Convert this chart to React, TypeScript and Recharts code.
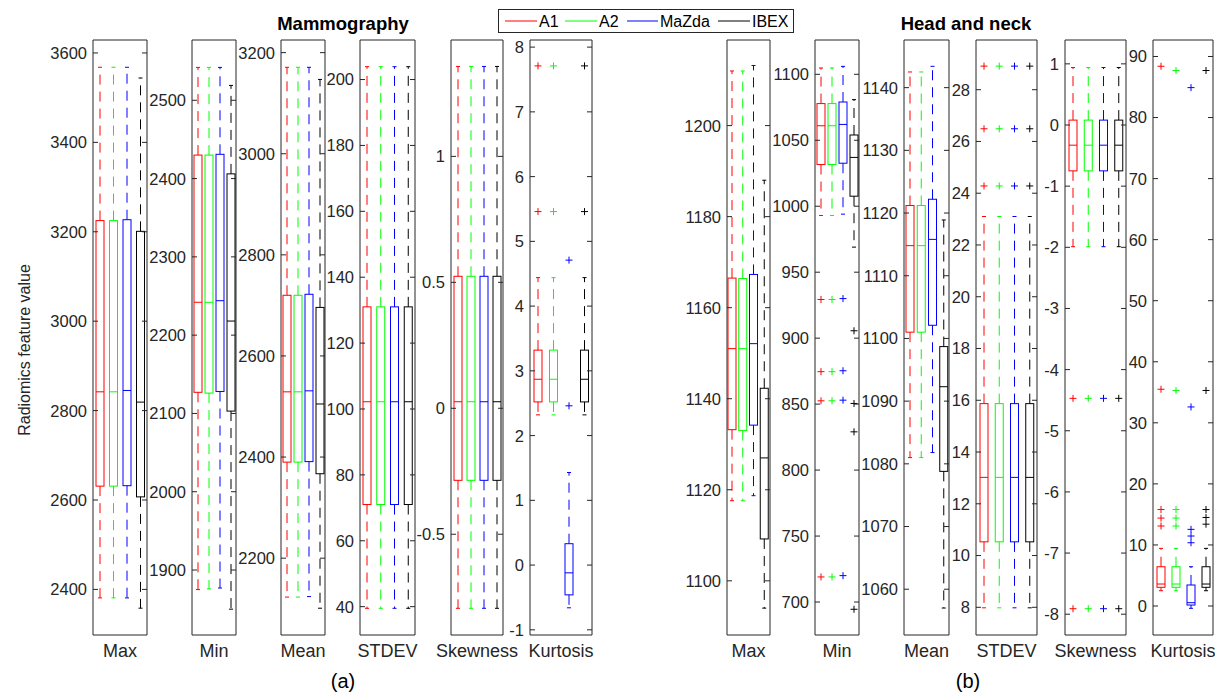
import React from 'react'
import { ComposedChart, Bar, XAxis, YAxis, ReferenceArea } from 'recharts'

const FONT = '"Liberation Sans", Arial, Helvetica, sans-serif'
const INK = '#262626'

const METHODS = ['A1', 'A2', 'MaZda', 'IBEX']
const COLORS: Record<string, string> = { A1: '#ff0000', A2: '#00ff00', MaZda: '#0000ff', IBEX: '#000000' }

// each box: [lower whisker, Q1, median, Q3, upper whisker], order A1, A2, MaZda, IBEX
// --- Mammography
const mamMaxBox = [[2381, 2631, 2842, 3225, 3568], [2381, 2631, 2842, 3225, 3568], [2381, 2632, 2845, 3227, 3568], [2358, 2607, 2819, 3201, 3544]]
const mamMaxTicks = [2400, 2600, 2800, 3000, 3200, 3400, 3600]

const mamMinBox = [[1875, 2127, 2242, 2430, 2542], [1876, 2126, 2242, 2430, 2542], [1877, 2128, 2244, 2431, 2542], [1850, 2103, 2218, 2406, 2519]]
const mamMinTicks = [1900, 2000, 2100, 2200, 2300, 2400, 2500]

const mamMeanBox = [[2123, 2390, 2529, 2720, 3171], [2123, 2390, 2529, 2720, 3171], [2124, 2391, 2531, 2722, 3171], [2101, 2367, 2505, 2696, 3147]]
const mamMeanTicks = [2200, 2400, 2600, 2800, 3000, 3200]

const mamStdBox = [[39.5, 71, 102.2, 131, 203.9], [39.5, 71, 102.2, 131, 203.9], [39.5, 71, 102.2, 131, 203.9], [39.5, 71, 102.2, 131, 203.9]]
const mamStdTicks = [40, 60, 80, 100, 120, 140, 160, 180, 200]

const mamSkewBox = [[-0.794, -0.286, 0.026, 0.524, 1.357], [-0.794, -0.286, 0.026, 0.524, 1.357], [-0.794, -0.286, 0.026, 0.524, 1.357], [-0.794, -0.286, 0.026, 0.524, 1.357]]
const mamSkewTicks = [-0.5, 0, 0.5, 1]

const mamKurtBox = [[2.32, 2.52, 2.87, 3.32, 4.44], [2.32, 2.52, 2.87, 3.32, 4.44], [-0.66, -0.46, -0.12, 0.33, 1.43], [2.32, 2.52, 2.87, 3.32, 4.44]]
const mamKurtOut = [[5.46, 7.71], [5.46, 7.71], [2.46, 4.71], [5.46, 7.71]]
const mamKurtTicks = [-1, 0, 1, 2, 3, 4, 5, 6, 7, 8]

// --- Head and neck
const hnMaxBox = [[1117.6, 1133.2, 1151, 1166.5, 1212], [1117.6, 1133, 1151, 1166.4, 1212], [1118.7, 1134.2, 1152.1, 1167.3, 1213.2], [1094, 1109.2, 1127, 1142.3, 1188]]
const hnMaxTicks = [1100, 1120, 1140, 1160, 1180, 1200]

const hnMinBox = [[993, 1031.6, 1061, 1077.8, 1104.8], [993, 1031.6, 1061, 1077.8, 1104.8], [994, 1032.6, 1062, 1079, 1106], [969, 1007.6, 1037, 1054, 1080.8]]
const hnMinOut = [[719, 852.5, 874.6, 929.3], [719, 852.5, 874.6, 929.3], [720, 853, 875.3, 930], [694.5, 829, 850.5, 905.6]]
const hnMinTicks = [700, 750, 800, 850, 900, 950, 1000, 1050, 1100]

const hnMeanBox = [[1081, 1101, 1114.8, 1121.2, 1142.5], [1081, 1101, 1114.8, 1121.2, 1142.5], [1081.8, 1102.1, 1115.8, 1122.2, 1143.4], [1057, 1078.8, 1092.3, 1098.7, 1118.9]]
const hnMeanTicks = [1060, 1070, 1080, 1090, 1100, 1110, 1120, 1130, 1140]

const hnStdBox = [[7.98, 10.53, 13.02, 15.87, 23.1], [7.98, 10.53, 13.02, 15.87, 23.1], [7.98, 10.53, 13.02, 15.87, 23.1], [7.98, 10.53, 13.02, 15.87, 23.1]]
const hnStdOut = [[24.28, 26.49, 28.91], [24.28, 26.49, 28.91], [24.28, 26.49, 28.91], [24.28, 26.49, 28.91]]
const hnStdTicks = [8, 10, 12, 14, 16, 18, 20, 22, 24, 26, 28]

const hnSkewBox = [[-1.99, -0.75, -0.33, 0.08, 0.94], [-1.99, -0.75, -0.33, 0.08, 0.94], [-1.99, -0.75, -0.33, 0.08, 0.94], [-1.99, -0.75, -0.33, 0.08, 0.94]]
const hnSkewOut = [[-7.91, -4.47], [-7.91, -4.47], [-7.91, -4.47], [-7.91, -4.47]]
const hnSkewTicks = [-8, -7, -6, -5, -4, -3, -2, -1, 0, 1]

const hnKurtBox = [[2.5, 3.06, 3.6, 6.43, 9.44], [2.5, 3.06, 3.6, 6.43, 9.44], [-0.38, 0.16, 0.54, 3.44, 6.43], [2.5, 3.06, 3.6, 6.43, 9.44]]
const hnKurtOut = [[13.1, 14.4, 15.8, 35.5, 88.4], [13.1, 14.4, 15.8, 35.3, 87.7], [10.36, 11.46, 12.55, 32.6, 84.9], [13.4, 14.5, 15.8, 35.3, 87.7]]
const hnKurtTicks = [0, 10, 20, 30, 40, 50, 60, 70, 80, 90]

const NONE = [[], [], [], []] as number[][]

const PLOT_TOP = 40
const PLOT_H = 595
const AXIS_W = 70
const XAXIS_H = 40
const PAD_R = 40 // room for the category label to overhang the plot

const panels = [
  { label: 'Max', box: mamMaxBox, out: NONE, ticks: mamMaxTicks, domain: [2298, 3629], left: 93, right: 147 },
  { label: 'Min', box: mamMinBox, out: NONE, ticks: mamMinTicks, domain: [1817, 2577], left: 192, right: 236 },
  { label: 'Mean', box: mamMeanBox, out: NONE, ticks: mamMeanTicks, domain: [2048, 3225], left: 281, right: 325 },
  { label: 'STDEV', box: mamStdBox, out: NONE, ticks: mamStdTicks, domain: [31.4, 212], left: 360, right: 415 },
  { label: 'Skewness', box: mamSkewBox, out: NONE, ticks: mamSkewTicks, domain: [-0.9, 1.462], left: 451, right: 503 },
  { label: 'Kurtosis', box: mamKurtBox, out: mamKurtOut, ticks: mamKurtTicks, domain: [-1.08, 8.11], left: 530, right: 592 },
  { label: 'Max', box: hnMaxBox, out: NONE, ticks: hnMaxTicks, domain: [1088.1, 1218.8], left: 727, right: 770 },
  { label: 'Min', box: hnMinBox, out: hnMinOut, ticks: hnMinTicks, domain: [675, 1126], left: 815, right: 859 },
  { label: 'Mean', box: hnMeanBox, out: NONE, ticks: hnMeanTicks, domain: [1052.7, 1147.6], left: 904, right: 949 },
  { label: 'STDEV', box: hnStdBox, out: hnStdOut, ticks: hnStdTicks, domain: [6.93, 29.92], left: 976, right: 1037 },
  { label: 'Skewness', box: hnSkewBox, out: hnSkewOut, ticks: hnSkewTicks, domain: [-8.34, 1.39], left: 1065, right: 1126 },
  { label: 'Kurtosis', box: hnKurtBox, out: hnKurtOut, ticks: hnKurtTicks, domain: [-4.75, 92.7], left: 1153, right: 1213 },
]

function BoxShape(props: any) {
  const { x, y, width, height, payload } = props
  if (!payload || height == null) return null
  const { lo, q1, med, q3, hi, out, name } = payload
  const c = COLORS[name]
  const top = Math.min(y, y + height)
  const bot = Math.max(y, y + height)
  const yv = (v: number) => top + ((bot - top) * (hi - v)) / (hi - lo)
  const cx = x + width / 2
  return (
    <g>
      <line x1={cx} x2={cx} y1={yv(q3)} y2={yv(hi)} stroke={c} strokeDasharray="10 7" />
      <line x1={cx} x2={cx} y1={yv(q1)} y2={yv(lo)} stroke={c} strokeDasharray="10 7" />
      <line x1={cx - 2} x2={cx + 2} y1={yv(hi)} y2={yv(hi)} stroke={c} />
      <line x1={cx - 2} x2={cx + 2} y1={yv(lo)} y2={yv(lo)} stroke={c} />
      <rect x={x} y={yv(q3)} width={width} height={yv(q1) - yv(q3)} fill="none" stroke={c} />
      <line x1={x} x2={x + width} y1={yv(med)} y2={yv(med)} stroke={c} />
      {out.map((v: number, i: number) => (
        <g key={i}>
          <line x1={cx - 3.5} x2={cx + 3.5} y1={yv(v)} y2={yv(v)} stroke={c} />
          <line x1={cx} x2={cx} y1={yv(v) - 3.5} y2={yv(v) + 3.5} stroke={c} />
        </g>
      ))}
    </g>
  )
}

function makeTick(w: number) {
  return (p: any) => {
    const { x, y, payload } = p
    return (
      <g>
        <line x1={x} x2={x + 5} y1={y} y2={y} stroke={INK} />
        <line x1={x + w} x2={x + w - 5} y1={y} y2={y} stroke={INK} />
        <text x={x - 6} y={y} dy="0.36em" textAnchor="end" fontSize={16.5} fill={INK} fontFamily={FONT}>
          {payload.value}
        </text>
      </g>
    )
  }
}

function Panel({ p }: { p: (typeof panels)[number] }) {
  const w = p.right - p.left
  const data = METHODS.map((name, i) => ({
    name,
    lo: p.box[i][0],
    q1: p.box[i][1],
    med: p.box[i][2],
    q3: p.box[i][3],
    hi: p.box[i][4],
    out: p.out[i],
  }))
  return (
    <div style={{ position: 'absolute', left: p.left - AXIS_W, top: 0 }}>
      <ComposedChart
        width={AXIS_W + w + PAD_R}
        height={PLOT_TOP + PLOT_H + XAXIS_H}
        data={data}
        margin={{ top: PLOT_TOP, right: PAD_R, bottom: 0, left: 0 }}
        style={{ overflow: 'visible' }}
      >
        <XAxis
          dataKey="name"
          type="category"
          height={XAXIS_H}
          tick={false}
          tickLine={false}
          axisLine={false}
          label={{ value: p.label, position: 'insideTop', offset: 9, fontSize: 18, fill: INK, fontFamily: FONT }}
        />
        <YAxis
          type="number"
          domain={p.domain}
          ticks={p.ticks}
          interval={0}
          width={AXIS_W}
          tickSize={0}
          tickMargin={0}
          axisLine={false}
          tick={makeTick(w)}
        />
        <ReferenceArea y1={p.domain[0]} y2={p.domain[1]} fill="none" stroke={INK} strokeWidth={1} />
        <Bar dataKey={(d: any) => [d.lo, d.hi]} barSize={8} shape={BoxShape} isAnimationActive={false} />
      </ComposedChart>
    </div>
  )
}

const legendItems = [
  { name: 'A1', x1: 505, x2: 537, tx: 539 },
  { name: 'A2', x1: 565, x2: 597, tx: 599 },
  { name: 'MaZda', x1: 627, x2: 658, tx: 660 },
  { name: 'IBEX', x1: 718, x2: 750, tx: 752 },
]

export default function App() {
  return (
    <div style={{ position: 'absolute', left: 0, top: 0, width: 1215, height: 694, background: '#fff', fontFamily: FONT, overflow: 'hidden' }}>
      {panels.map((p, i) => (
        <Panel key={i} p={p} />
      ))}
      <svg width={1215} height={694} style={{ position: 'absolute', left: 0, top: 0, pointerEvents: 'none' }}>
        <text x={343} y={30} textAnchor="middle" fontSize={18.5} fontWeight="bold" fill="#000" fontFamily={FONT}>
          Mammography
        </text>
        <text x={966} y={30} textAnchor="middle" fontSize={18.5} fontWeight="bold" fill="#000" fontFamily={FONT}>
          Head and neck
        </text>
        <text transform="translate(30,350) rotate(-90)" textAnchor="middle" fontSize={16} fill={INK} fontFamily={FONT}>
          Radiomics feature value
        </text>
        <text x={343} y={688} textAnchor="middle" fontSize={20} fill="#000" fontFamily={FONT}>(a)</text>
        <text x={968} y={688} textAnchor="middle" fontSize={20} fill="#000" fontFamily={FONT}>(b)</text>
        <rect x={498.5} y={9.5} width={295} height={23} fill="#fff" stroke={INK} />
        {legendItems.map((it) => (
          <g key={it.name}>
            <line x1={it.x1} x2={it.x2} y1={21} y2={21} stroke={COLORS[it.name]} />
            <text x={it.tx} y={21} dy="0.36em" fontSize={16} fill="#000" fontFamily={FONT}>
              {it.name}
            </text>
          </g>
        ))}
      </svg>
    </div>
  )
}
